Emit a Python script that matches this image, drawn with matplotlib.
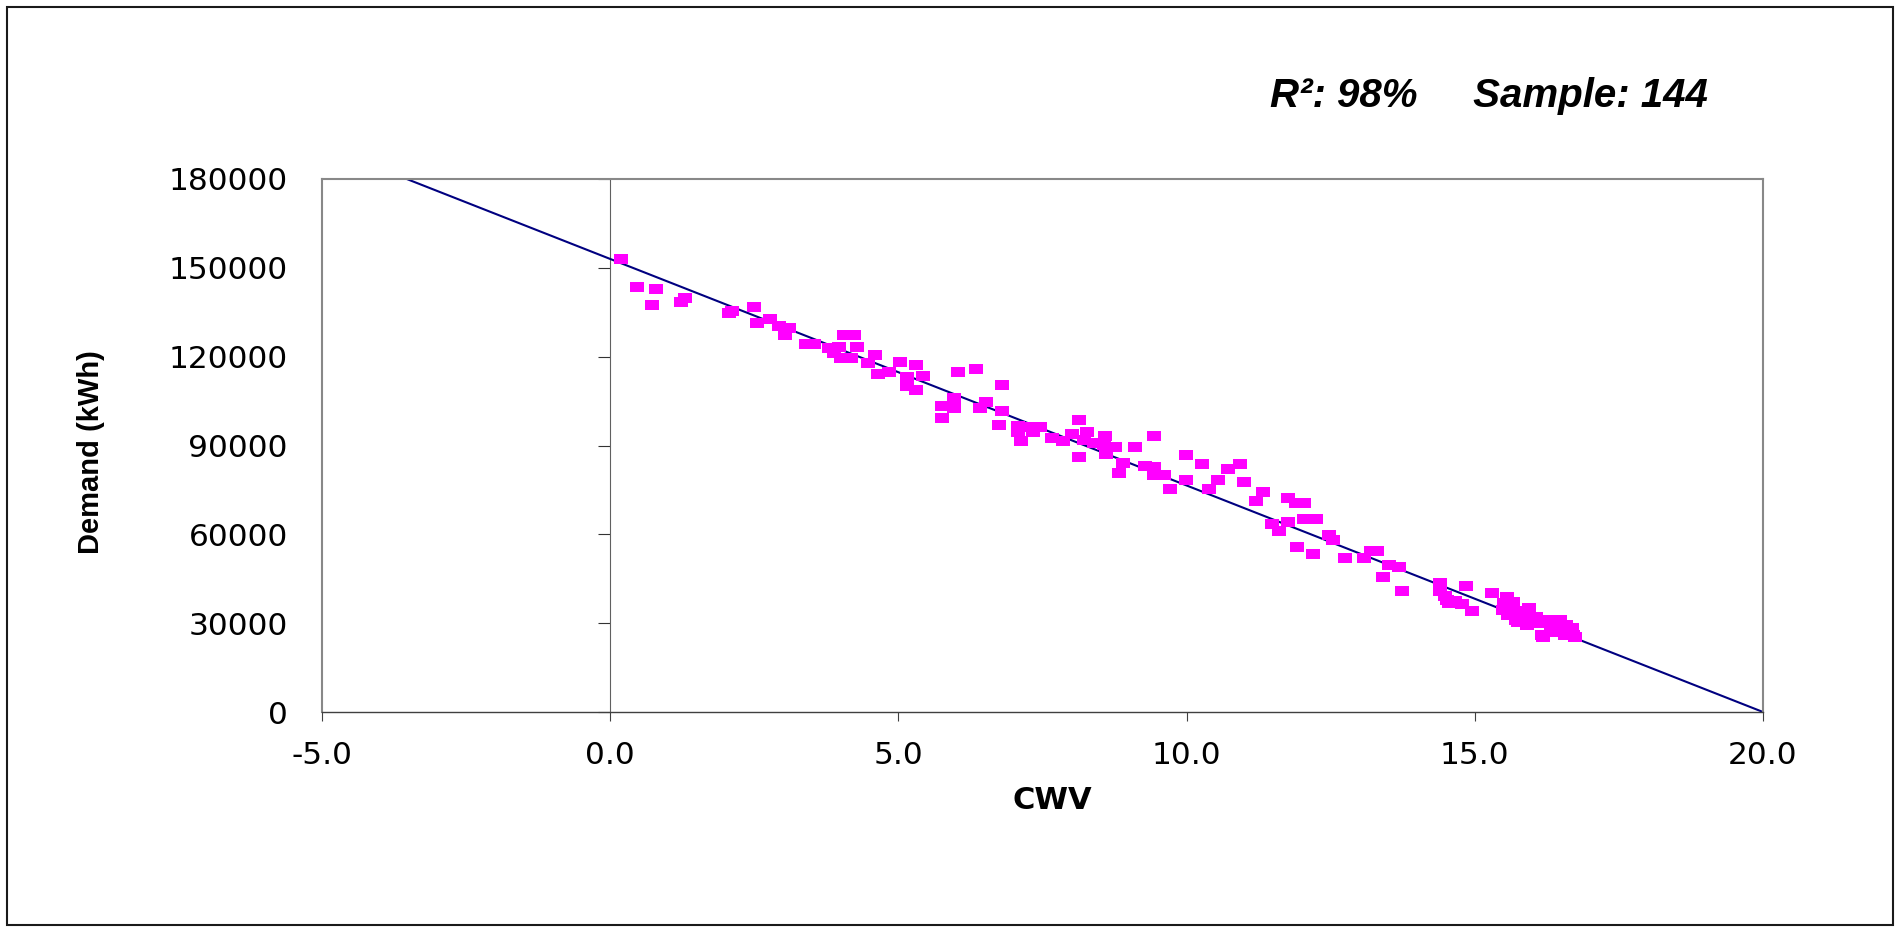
import numpy as np
import matplotlib
matplotlib.use("Agg")
import matplotlib.pyplot as plt
from matplotlib.patches import Rectangle
from matplotlib.ticker import FormatStrFormatter

# ================================
# DATA
# ================================

# CWV value of each observation
cwv = [
    0.18, 0.46, 0.79, 0.73, 1.23, 1.29, 2.06, 2.12, 2.50, 2.55,
    2.77, 2.93, 3.04, 3.11, 3.39, 3.54, 3.80, 3.88, 3.97, 4.06,
    4.23, 4.00, 4.17, 4.28, 4.60, 4.48, 4.65, 4.83, 5.03, 5.31,
    5.15, 5.42, 5.15, 5.31, 6.03, 6.35, 5.75, 5.97, 5.97, 5.75,
    6.41, 6.52, 6.80, 6.80, 6.74, 7.07, 7.07, 7.21, 7.34, 7.46,
    7.13, 7.66, 7.85, 8.01, 8.13, 8.28, 8.22, 8.13, 8.40, 8.58,
    8.56, 8.75, 8.61, 9.11, 9.44, 8.89, 8.83, 9.28, 9.44, 9.44,
    9.61, 9.72, 9.99, 9.99, 10.27, 10.38, 10.55, 10.71, 10.93, 10.99,
    11.32, 11.21, 11.76, 11.90, 12.03, 11.49, 11.60, 11.76, 12.03, 12.25,
    11.92, 12.19, 12.47, 12.54, 12.75, 13.08, 13.20, 13.31, 13.51, 13.68,
    13.40, 13.74, 14.40, 14.40, 14.49, 14.52, 14.56, 14.77, 14.84, 14.96,
    15.29, 15.55, 15.66, 15.49, 15.57, 15.72, 15.81, 15.94, 15.90, 16.07,
    16.13, 16.16, 16.27, 16.33, 16.47, 16.50, 16.59, 16.68, 16.71, 16.56,
    15.50, 15.72, 15.75, 15.89, 16.02, 16.19, 16.36, 16.41, 16.74, 16.45,
    15.60, 14.65, 15.83, 16.62,
]

# Demand (kWh) of each observation
demand = [
    153000, 143600, 143000, 137500, 138400, 139900, 134600, 135300, 136800, 131300,
    132800, 130400, 127300, 129700, 124300, 124300, 122800, 121300, 123400, 127300,
    127300, 119700, 119700, 123400, 120600, 118000, 114200, 114900, 118100, 117300,
    113000, 113500, 110200, 108700, 114900, 115700, 103300, 105900, 102600, 99400,
    102600, 104800, 110300, 101800, 97000, 96600, 94700, 96100, 94700, 96100,
    91600, 92400, 91600, 93900, 98600, 94700, 91900, 86200, 90700, 93100,
    90200, 89400, 87100, 89400, 93200, 84000, 80800, 83200, 82600, 80000,
    80000, 75300, 86900, 78400, 83800, 75300, 78400, 82200, 83800, 77600,
    74400, 71400, 72200, 70700, 70700, 63500, 61200, 64300, 65100, 65100,
    55800, 53400, 59800, 58100, 51900, 51900, 54400, 54400, 49600, 48900,
    45700, 41000, 43700, 41000, 39200, 37800, 36700, 36500, 42700, 34100,
    40300, 38700, 37300, 34400, 32800, 31100, 32200, 35000, 29400, 32200,
    30000, 26000, 31100, 28300, 31100, 27700, 29400, 28300, 26000, 26000,
    36800, 33300, 30500, 31600, 30800, 25400, 28800, 27100, 25400, 29800,
    35600, 37500, 34000, 26400,
]

# regression line: Demand = a * CWV + b
fit_coef = [-7650, 153000]
fit_x = [-5.0, 20.0]

x_ticks = [-5, 0, 5, 10, 15, 20]
y_ticks = [0, 30000, 60000, 90000, 120000, 150000, 180000]
stats_text = "R\u00b2: 98%     Sample: 144"

# ================================
# PLOT
# ================================
plt.rcParams['axes.unicode_minus'] = False
plt.rcParams['font.family'] = ['DejaVu Sans']

W, H = 1900, 934
fig = plt.figure(figsize=(W / 100, H / 100), dpi=100)
fig.patch.set_facecolor('white')

# plot area in pixels: left 322, right 1763, top 179, bottom 712
ax = fig.add_axes([322 / W, 1 - 712 / H, (1763 - 322) / W, (712 - 179) / H])

ax.plot(fit_x, np.polyval(fit_coef, fit_x), color='#000080', linewidth=1.5, zorder=2)

box = [(-1, -0.72), (1, -0.72), (1, 0.72), (-1, 0.72), (-1, -0.72)]
ax.plot(cwv, demand, linestyle='none', marker=box, markersize=10.5,
        color='#FF00FF', markeredgewidth=0, zorder=3)

ax.set_xlim(x_ticks[0], x_ticks[-1])
ax.set_ylim(y_ticks[0], y_ticks[-1])
ax.set_xticks(x_ticks)
ax.set_yticks(y_ticks)
ax.xaxis.set_major_formatter(FormatStrFormatter('%.1f'))
ax.yaxis.set_major_formatter(FormatStrFormatter('%d'))

for side in ['left', 'top', 'right']:
    ax.spines[side].set_color('#888888')
    ax.spines[side].set_linewidth(1.5)
ax.spines['bottom'].set_color('#404040')
ax.spines['bottom'].set_linewidth(1.0)

# value axis crossing at CWV = 0 (ticks only, labels stay on the left)
zero_pos = (0 - x_ticks[0]) / (x_ticks[-1] - x_ticks[0])
sec = ax.secondary_yaxis(zero_pos)
sec.set_yticks(y_ticks)
sec.tick_params(axis='y', direction='out', length=8.5, width=0.8, color='#333333',
                labelleft=False, labelright=False)
sec.spines['left'].set_color('#606060')
sec.spines['left'].set_linewidth(0.8)

ax.tick_params(axis='x', direction='out', length=6.5, width=0.8, color='#404040',
               pad=14.5, labelsize=22.5)
ax.tick_params(axis='y', direction='out', length=0, pad=24.5, labelsize=22.5)

ax.set_xlabel('CWV', fontweight='bold', fontsize=22)
ax.xaxis.set_label_coords(0.5066, -0.139)
ax.set_ylabel('Demand (kWh)', family='Liberation Sans', fontweight='bold', fontsize=21)
ax.yaxis.set_label_coords(-0.1506, 0.488)

fig.text(1270 / W, 1 - 106.7 / H, stats_text, family='Liberation Sans',
         fontweight='bold', fontstyle='italic', fontsize=29, va='baseline', ha='left')

# outer chart frame
fig.add_artist(Rectangle((7 / W, 1 - 925 / H), 1886 / W, 918 / H, transform=fig.transFigure,
                         fill=False, edgecolor='#1a1a1a', linewidth=1.5))

fig.savefig('out.png', dpi=100)
